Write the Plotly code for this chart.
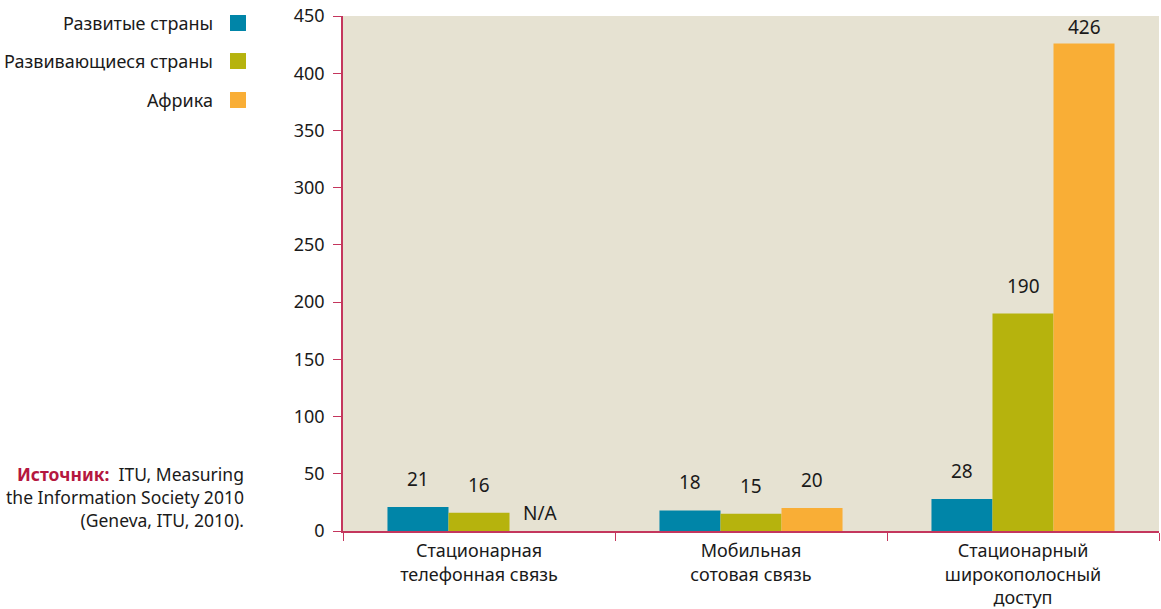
import plotly.graph_objects as go

# Data
categories = ["Стационарная<br>телефонная связь", "Мобильная<br>сотовая связь",
              "Стационарный<br>широкополосный<br>доступ"]
series_names = ["Развитые страны", "Развивающиеся страны", "Африка"]
developed = [21, 18, 28]
developing = [16, 15, 190]
africa = [None, 20, 426]
colors = ["#0085a8", "#b6b30d", "#f9ae36"]
y_ticks = [0, 50, 100, 150, 200, 250, 300, 350, 400, 450]

FONT = "Noto Sans"
AXIS_COLOR = "#c4365d"

fig = go.Figure()
series = [developed, developing, africa]
for name, vals, col in zip(series_names, series, colors):
    fig.add_trace(go.Bar(x=categories, y=vals, name=name, marker_color=col,
                         marker_line_width=0, showlegend=False, hoverinfo="y"))

annotations = []
bar_px = 61
for i, vals in enumerate(series):
    for cat, v in zip(categories, vals):
        if v is None:
            label, shift = "N/A", 3
        else:
            # labels near the top of the axis sit closer to the bar
            label, shift = str(v), (13 if v < 400 else 1)
        annotations.append(dict(
            x=cat, y=v if v is not None else 0, xref="x", yref="y",
            text=label, showarrow=False, yanchor="bottom", yshift=shift,
            xshift=(i - 1) * bar_px,
            font=dict(family=FONT, size=19, color="#1a1a1a")))

# legend drawn at the left, labels right-aligned with squares on the right
shapes = []
legend_y = [0.9864, 0.9126, 0.8369]
for name, col, ly in zip(series_names, colors, legend_y):
    annotations.append(dict(x=-0.1569, y=ly, xref="paper", yref="paper",
                            xanchor="right", yanchor="middle", showarrow=False,
                            text=name, font=dict(family=FONT, size=18, color="#1a1a1a")))
    shapes.append(dict(type="rect", xref="paper", yref="paper",
                       x0=-0.1385, x1=-0.1189, y0=ly - 0.0155, y1=ly + 0.0155,
                       fillcolor=col, line_width=0))

annotations.append(dict(
    x=-0.1189, y=0.066, xref="paper", yref="paper", xanchor="right", yanchor="middle",
    align="right", showarrow=False,
    text="<b><span style='color:#b5173f'>Источник:</span></b>  ITU, Measuring<br>"
         "the Information Society 2010<br>(Geneva, ITU, 2010).",
    font=dict(family=FONT, size=17.5, color="#1a1a1a")))

fig.update_layout(
    barmode="group",
    bargap=0.327,
    bargroupgap=0,
    width=1161, height=609,
    margin=dict(l=343, r=2, t=16, b=78, autoexpand=False),
    paper_bgcolor="white",
    plot_bgcolor="#e6e2d2",
    annotations=annotations,
    shapes=shapes,
    font=dict(family=FONT, size=17, color="#1a1a1a"),
    xaxis=dict(showline=True, linecolor=AXIS_COLOR, linewidth=1.5, automargin=False,
               ticks="outside", tickson="boundaries", ticklen=8, tickcolor=AXIS_COLOR,
               tickfont=dict(family=FONT, size=18), ticklabelstandoff=3, showgrid=False),
    yaxis=dict(range=[0, 450], tickvals=y_ticks, showline=True, linecolor=AXIS_COLOR,
               linewidth=1.5, ticks="outside", ticklen=8, tickcolor=AXIS_COLOR,
               tickfont=dict(family=FONT, size=18), ticklabelstandoff=5, automargin=False,
               showgrid=False, zeroline=False),
)

# drop the default page margin so the figure fills the window exactly
fig.write_html("out.html", config={"displayModeBar": False},
               post_script="document.body.style.margin='0';")
